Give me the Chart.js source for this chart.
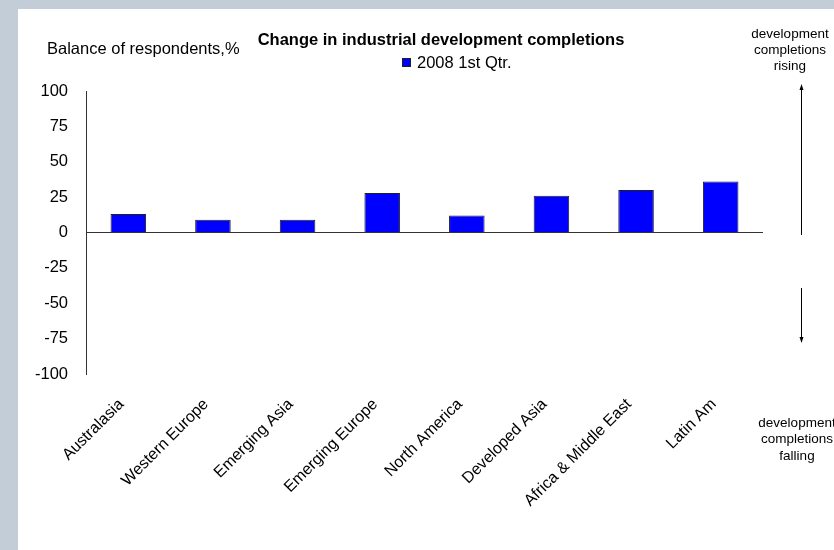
<!DOCTYPE html>
<html>
<head>
<meta charset="utf-8">
<script src="https://cdn.jsdelivr.net/npm/chart.js@4/dist/chart.umd.min.js"></script>
<style>
  html, body { margin: 0; padding: 0; background: #c2cdd7; width: 834px; height: 550px; overflow: hidden; }
  #wrap { position: absolute; left: 18px; top: 9px; width: 816px; height: 541px; background: #ffffff; }
  canvas { display: block; }
</style>
</head>
<body>
<div id="wrap"><canvas id="c" width="816" height="541"></canvas></div>
<script>
// ---- data ----
const categories = ["Australasia", "Western Europe", "Emerging Asia", "Emerging Europe", "North America", "Developed Asia", "Africa & Middle East", "Latin Am"];
const seriesName = "2008 1st Qtr.";
const seriesValues = [13, 9, 9, 28, 12, 26, 30, 36];
const yTicks = [-100, -75, -50, -25, 0, 25, 50, 75, 100];
const chartTitle = "Change in industrial development completions";
const yAxisTitle = "Balance of respondents,%";
const risingNote = ["development", "completions", "rising"];
const fallingNote = ["development", "completions", "falling"];

const FONT = '"Liberation Sans", Arial, sans-serif';

const extras = {
  id: 'extras',
  afterDraw(chart) {
    const ctx = chart.ctx;
    ctx.save();
    ctx.fillStyle = '#000';
    // title
    ctx.font = 'bold 16.5px ' + FONT;
    ctx.textAlign = 'center';
    ctx.textBaseline = 'middle';
    ctx.fillText(chartTitle, 423, 31);
    // legend
    const ds = chart.data.datasets[0];
    ctx.fillStyle = ds.backgroundColor;
    ctx.fillRect(384, 49, 9, 9);
    ctx.strokeStyle = '#202020';
    ctx.lineWidth = 1;
    ctx.strokeRect(384.5, 49.5, 8, 8);
    ctx.fillStyle = '#000';
    ctx.font = '16.5px ' + FONT;
    ctx.textAlign = 'left';
    ctx.fillText(ds.label, 399, 54);
    // y axis title
    ctx.fillText(yAxisTitle, 29, 40);
    // right notes
    ctx.font = '13.5px ' + FONT;
    ctx.textAlign = 'center';
    risingNote.forEach((t, i) => ctx.fillText(t, 772, 25 + i * 16));
    fallingNote.forEach((t, i) => ctx.fillText(t, 779, 414 + i * 16.5));
    // arrows
    ctx.strokeStyle = '#000';
    ctx.beginPath();
    ctx.moveTo(783.5, 226); ctx.lineTo(783.5, 79);
    ctx.moveTo(783.5, 279); ctx.lineTo(783.5, 330);
    ctx.stroke();
    ctx.beginPath();
    ctx.moveTo(783.5, 75); ctx.lineTo(781.5, 81); ctx.lineTo(785.5, 81); ctx.closePath();
    ctx.moveTo(783.5, 334); ctx.lineTo(781.5, 328); ctx.lineTo(785.5, 328); ctx.closePath();
    ctx.fill();
    ctx.restore();
  }
};

new Chart(document.getElementById('c'), {
  type: 'bar',
  data: {
    labels: categories,
    datasets: [{
      label: seriesName,
      data: seriesValues,
      backgroundColor: '#0000ff',
      borderColor: '#202020',
      borderWidth: 1,
      categoryPercentage: 1,
      barPercentage: 0.42
    }]
  },
  options: {
    responsive: false,
    animation: false,
    devicePixelRatio: 1,
    layout: { padding: { top: 82, right: 71, left: 0, bottom: 0 } },
    plugins: {
      legend: { display: false },
      title: { display: false },
      tooltip: { enabled: false }
    },
    scales: {
      x: {
        grid: { display: false, drawTicks: false },
        border: { display: false },
        ticks: {
          color: '#000',
          font: { family: FONT, size: 16 },
          minRotation: 45,
          maxRotation: 45,
          autoSkip: false,
          padding: 21,
          labelOffset: -7
        },
        afterFit(scale) { scale.height = 176; }
      },
      y: {
        min: -100,
        max: 100,
        afterBuildTicks(scale) { scale.ticks = yTicks.map(v => ({ value: v })); },
        grid: {
          drawTicks: false,
          color: ctx => (ctx.tick && ctx.tick.value === 0) ? '#333333' : 'rgba(0,0,0,0)',
          lineWidth: 1
        },
        border: { display: true, color: '#333333', width: 1 },
        ticks: {
          color: '#000',
          font: { family: FONT, size: 16.5 },
          padding: 18
        },
        afterFit(scale) { scale.width = 68; }
      }
    }
  },
  plugins: [extras]
});
</script>
</body>
</html>
